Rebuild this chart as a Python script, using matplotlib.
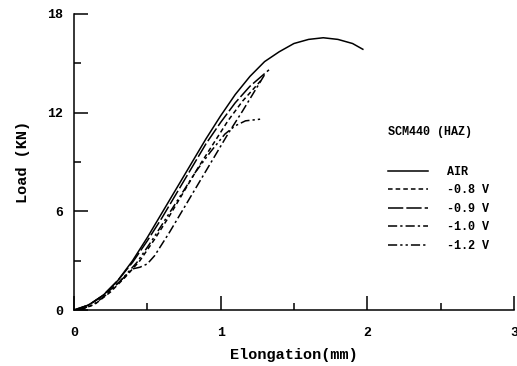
import matplotlib
matplotlib.use("Agg")
import matplotlib.pyplot as plt
from matplotlib.ticker import MultipleLocator

# Load-elongation curves, SCM440 (HAZ)
x_air = [0, 0.1, 0.2, 0.3, 0.4, 0.5, 0.6, 0.7, 0.8, 0.9, 1.0, 1.1, 1.2,
         1.3, 1.4, 1.5, 1.6, 1.7, 1.8, 1.9, 1.97]
load_air = [0, 0.3, 0.9, 1.8, 3.0, 4.4, 5.9, 7.4, 8.9, 10.4, 11.8, 13.1,
            14.2, 15.1, 15.7, 16.2, 16.45, 16.55, 16.45, 16.2, 15.85]

x_08 = [0.05, 0.15, 0.25, 0.35, 0.45, 0.55, 0.65, 0.75, 0.85, 0.95, 1.05,
        1.15, 1.28]
load_08 = [0, 0.4, 1.1, 2.0, 3.0, 4.3, 5.7, 7.2, 8.7, 10.1, 11.5, 12.7, 14.0]

x_09 = [0, 0.1, 0.2, 0.3, 0.4, 0.5, 0.6, 0.7, 0.8, 0.9, 1.0, 1.1, 1.2, 1.33]
load_09 = [0, 0.3, 0.9, 1.8, 2.9, 4.2, 5.6, 7.1, 8.6, 10.1, 11.4, 12.6,
           13.6, 14.6]

x_10 = [0.02, 0.12, 0.22, 0.32, 0.4, 0.45, 0.5, 0.55, 0.65, 0.75, 0.85,
        0.95, 1.05, 1.15, 1.3]
load_10 = [0, 0.4, 1.0, 1.8, 2.5, 2.6, 2.8, 3.3, 4.7, 6.2, 7.7, 9.2, 10.7,
           12.1, 14.3]

x_12 = [0.03, 0.13, 0.23, 0.33, 0.43, 0.53, 0.63, 0.73, 0.83, 0.93, 1.03,
        1.1, 1.17, 1.27]
load_12 = [0, 0.3, 1.0, 1.9, 2.9, 4.2, 5.6, 7.0, 8.4, 9.6, 10.7, 11.2,
           11.5, 11.6]

labels = ["AIR", "-0.8 V", "-0.9 V", "-1.0 V", "-1.2 V"]

font = "Liberation Mono"

fig = plt.figure(figsize=(5.17, 3.66), dpi=100)
ax = fig.add_axes([0.143, 0.153, 0.851, 0.809])

lw = 1.1
ax.plot(x_air, load_air, color="black", lw=lw, label=labels[0])
ax.plot(x_08, load_08, color="black", lw=lw, dashes=(3, 2), label=labels[1])
ax.plot(x_09, load_09, color="black", lw=lw, dashes=(10, 2), label=labels[2])
ax.plot(x_10, load_10, color="black", lw=lw, dashes=(6, 2, 1.5, 2),
        label=labels[3])
ax.plot(x_12, load_12, color="black", lw=lw, dashes=(6, 2, 1.5, 2, 1.5, 2),
        label=labels[4])

ax.set_xlim(0, 3)
ax.set_ylim(0, 18)
ax.spines["top"].set_visible(False)
ax.spines["right"].set_visible(False)
ax.spines["left"].set_linewidth(1.1)
ax.spines["bottom"].set_linewidth(1.1)

ax.xaxis.set_major_locator(MultipleLocator(1))
ax.xaxis.set_minor_locator(MultipleLocator(0.5))
ax.yaxis.set_major_locator(MultipleLocator(6))
ax.yaxis.set_minor_locator(MultipleLocator(3))
ax.tick_params(which="major", direction="in", length=10, width=1.1,
               pad=12, labelsize=9.5)
ax.tick_params(which="minor", direction="in", length=5, width=1.1)
ax.tick_params(axis="y", which="major", pad=8)
for lab in ax.get_xticklabels() + ax.get_yticklabels():
    lab.set_family(font)
    lab.set_fontweight("bold")

ax.set_xlabel("Elongation(mm)", family=font, fontweight="bold", fontsize=11,
              labelpad=7)
ax.set_ylabel("Load (KN)", family=font, fontweight="bold", fontsize=11,
              labelpad=12)

fig.text(388 / 517, 1 - 132 / 366, "SCM440 (HAZ)", family=font,
         fontweight="bold", fontsize=8.5, va="center", ha="left")
ax.legend(loc="upper left", bbox_to_anchor=(383 / 517, 1 - 161 / 366),
          bbox_transform=fig.transFigure, frameon=False,
          prop={"family": font, "weight": "bold", "size": 8.5},
          handlelength=3.4, handletextpad=1.6, labelspacing=0.55,
          borderaxespad=0)

fig.savefig("out.png", dpi=100)
